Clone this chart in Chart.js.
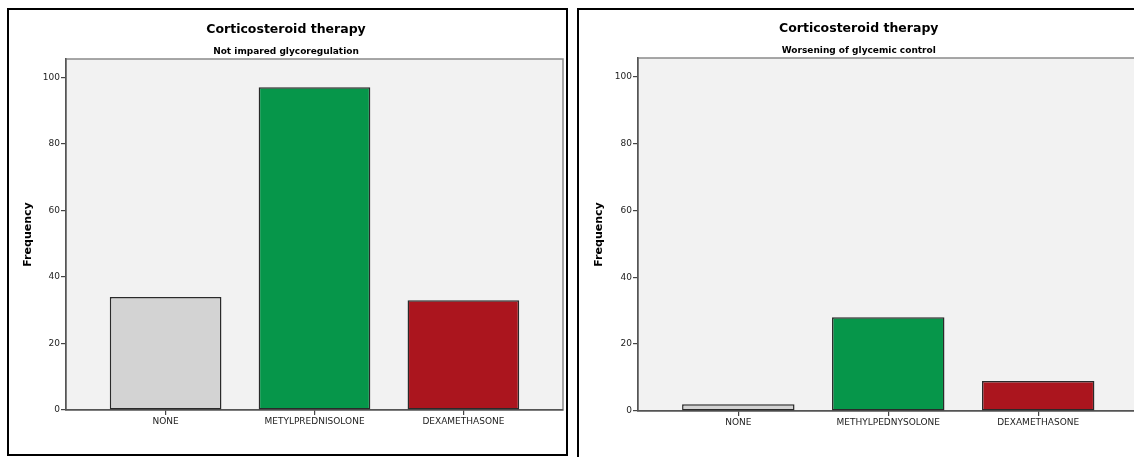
<!DOCTYPE html>
<html>
<head>
<meta charset="utf-8">
<script src="https://cdn.jsdelivr.net/npm/chart.js@4/dist/chart.umd.min.js"></script>
<style>
  html, body { margin: 0; padding: 0; background: #fff; overflow: hidden; width: 1134px; height: 457px; }
  .panel { position: absolute; border: 2px solid #000; background: #fff; }
  #leftPanel { left: 7px; top: 8px; }
  #rightPanel { left: 577px; top: 8px; }
  canvas { display: block; }
</style>
</head>
<body>
<div class="panel" id="leftPanel"><canvas id="leftChart" width="557" height="444"></canvas></div>
<div class="panel" id="rightPanel"><canvas id="rightChart" width="562" height="452"></canvas></div>
<script>
const chartTitle = 'Corticosteroid therapy';
const leftSubtitle = 'Not impared glycoregulation';
const rightSubtitle = 'Worsening of glycemic control';
const yAxisTitle = 'Frequency';

const leftCategories = ['NONE', 'METYLPREDNISOLONE', 'DEXAMETHASONE'];
const leftValues = [34, 97, 33];

const rightCategories = ['NONE', 'METHYLPEDNYSOLONE', 'DEXAMETHASONE'];
const rightValues = [2, 28, 9];

const barColors = ['#d3d3d3', '#06964a', '#ab151e'];
const yTicks = [0, 20, 40, 60, 80, 100];

const FONT = "'DejaVu Sans', sans-serif";

// light grey plot area with a thin frame, like the SPSS output
const plotFrame = {
  id: 'plotFrame',
  beforeDraw(chart) {
    const a = chart.chartArea;
    const ctx = chart.ctx;
    ctx.save();
    ctx.fillStyle = '#f2f2f2';
    ctx.fillRect(a.left, a.top, a.right - a.left, a.bottom - a.top);
    ctx.strokeStyle = '#8a8a8a';
    ctx.lineWidth = 1.5;
    ctx.strokeRect(a.left, a.top, a.right - a.left, a.bottom - a.top);
    ctx.restore();
  }
};

function makeChart(id, categories, values, subtitle, o) {
  const ctx = document.getElementById(id).getContext('2d');
  return new Chart(ctx, {
    type: 'bar',
    data: {
      datasets: [{
        data: values.map((v, i) => ({x: i, y: v})),
        backgroundColor: barColors,
        borderColor: '#2a2a2a',
        borderWidth: 1.5,
        borderSkipped: false,
        categoryPercentage: 1,
        barPercentage: 0.75
      }]
    },
    options: {
      responsive: false,
      animation: false,
      layout: {padding: {left: 0, right: o.padRight, top: 0, bottom: 0}},
      plugins: {
        legend: {display: false},
        tooltip: {enabled: false},
        title: {
          display: true,
          text: chartTitle,
          color: '#000',
          font: {family: FONT, size: 12.5, weight: 'bold', lineHeight: 1.2},
          padding: {top: o.titleTop, bottom: 5}
        },
        subtitle: {
          display: true,
          text: subtitle,
          color: '#000',
          font: {family: FONT, size: 9, weight: 'bold', lineHeight: 1.2},
          padding: {top: 4.1, bottom: o.subBottom}
        }
      },
      scales: {
        x: {
          type: 'linear',
          offset: false,
          min: -0.669,
          max: 2.669,
          afterFit: (s) => { s.height = o.xHeight; },
          afterBuildTicks: (s) => { s.ticks = categories.map((c, i) => ({value: i})); },
          border: {display: true, color: '#555', width: 1.5},
          grid: {offset: false, drawOnChartArea: false, drawTicks: true, tickLength: 5, color: '#444', lineWidth: 1.2},
          ticks: {
            autoSkip: false,
            maxRotation: 0,
            padding: 1,
            color: '#222',
            font: {family: FONT, size: 9},
            callback: (v) => categories[v]
          }
        },
        y: {
          min: 0,
          max: 105.5,
          afterFit: (s) => { s.width = o.yWidth; },
          afterBuildTicks: (s) => { s.ticks = yTicks.map(v => ({value: v})); },
          border: {display: true, color: '#555', width: 1.5},
          grid: {drawOnChartArea: false, drawTicks: true, tickLength: 5, color: '#444', lineWidth: 1.2},
          ticks: {
            padding: 1,
            color: '#222',
            font: {family: FONT, size: 9}
          },
          title: {
            display: true,
            text: yAxisTitle,
            color: '#000',
            font: {family: FONT, size: 11, weight: 'bold', lineHeight: 1.2},
            padding: {top: o.yTitlePad, bottom: 0}
          }
        }
      }
    },
    plugins: [plotFrame]
  });
}

makeChart('leftChart', leftCategories, leftValues, leftSubtitle,
  {titleTop: 12.5, subBottom: 1.6, xHeight: 44, yWidth: 57, padRight: 3, yTitlePad: 13});
makeChart('rightChart', rightCategories, rightValues, rightSubtitle,
  {titleTop: 11.5, subBottom: 1.6, xHeight: 51, yWidth: 59, padRight: 2.5, yTitlePad: 14});
</script>
</body>
</html>
